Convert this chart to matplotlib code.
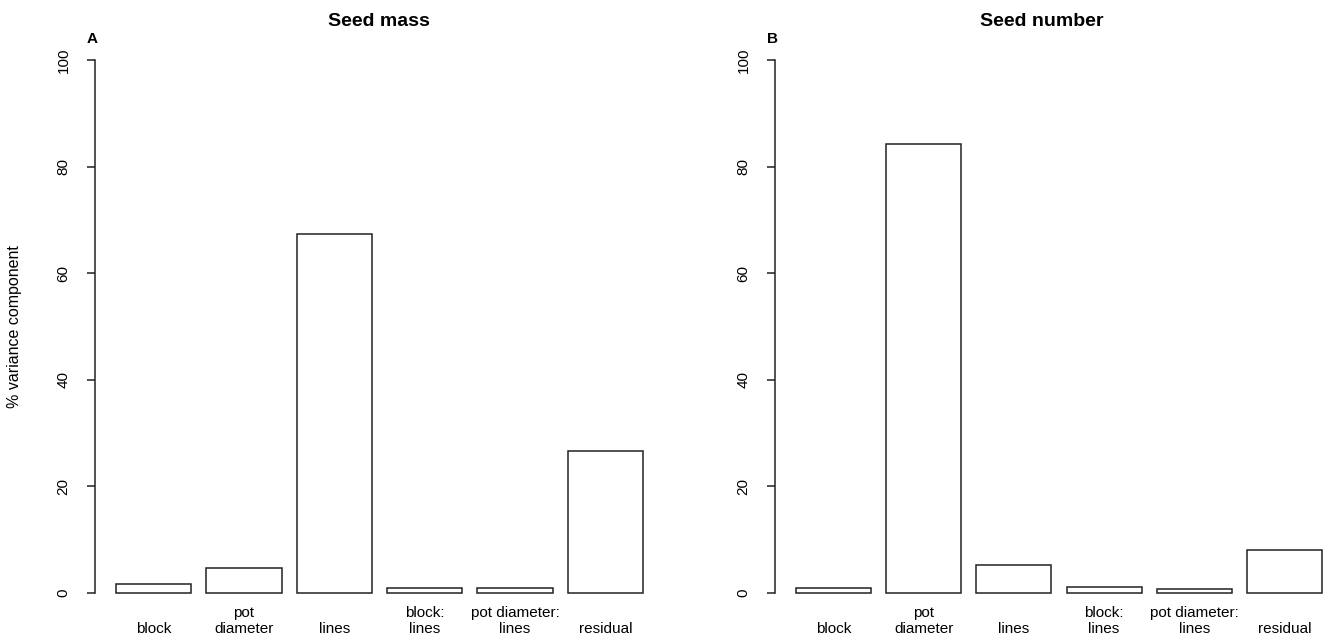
import matplotlib
matplotlib.use("Agg")
import matplotlib.pyplot as plt
import numpy as np

plt.rcParams['font.family'] = ['Liberation Sans', 'DejaVu Sans']

# data
categories = ["\nblock", "pot\ndiameter", "\nlines", "block:\nlines",
              "pot diameter:\nlines", "\nresidual"]
seed_mass = [1.6, 4.6, 67.3, 1.0, 1.0, 26.6]
seed_number = [1.0, 84.2, 5.3, 1.2, 0.7, 8.1]
titles = ["Seed mass", "Seed number"]
panel_letters = ["A", "B"]
yticks = [0, 20, 40, 60, 80, 100]

W, H = 1324, 638
fig = plt.figure(figsize=(W / 100, H / 100), dpi=100)

# plot regions in pixels (left, right, top, bottom), R style barplot
regions = [(95, 664, 38.7, 614.3), (775, 1343, 38.7, 614.3)]
title_x = [379, 1042]

# bar geometry like R barplot: width 1, space 0.2
n = len(categories)
lefts = 0.2 + 1.2 * np.arange(n)
centers = lefts + 0.5

for i, values in enumerate([seed_mass, seed_number]):
    l, r, t, b = regions[i]
    ax = fig.add_axes([l / W, 1 - b / H, (r - l) / W, (b - t) / H])
    ax.bar(centers, values, width=1.0, color="white", edgecolor="#222222",
           linewidth=1.1)
    ax.set_xlim(-0.08, 7.48)
    ax.set_ylim(-4, 104)
    for s in ["top", "right", "bottom"]:
        ax.spines[s].set_visible(False)
    ax.spines["left"].set_bounds(0, 100)
    ax.spines["left"].set_linewidth(1.1)
    ax.spines["left"].set_color("#222222")
    ax.set_yticks(yticks)
    ax.set_yticklabels([str(v) for v in yticks], rotation=90, va="center",
                       fontsize=11)
    ax.tick_params(axis="y", length=5.5, width=1.1, color="#222222", pad=12)
    ax.set_xticks(centers)
    ax.set_xticklabels(categories, fontsize=11, linespacing=1.15)
    ax.tick_params(axis="x", length=0, pad=-6)
    ax.patch.set_alpha(0)

    fig.text(title_x[i] / W, 1 - 26 / H, titles[i], ha="center",
             va="baseline", fontsize=14, fontweight="bold")
    fig.text((l - 3) / W, 1 - 43 / H, panel_letters[i], ha="center",
             va="baseline", fontsize=11, fontweight="bold")

fig.text(15 / W, 1 - 326.5 / H, "% variance component", rotation=90,
         ha="center", va="center", fontsize=11.5)

fig.savefig("out.png", dpi=100)
